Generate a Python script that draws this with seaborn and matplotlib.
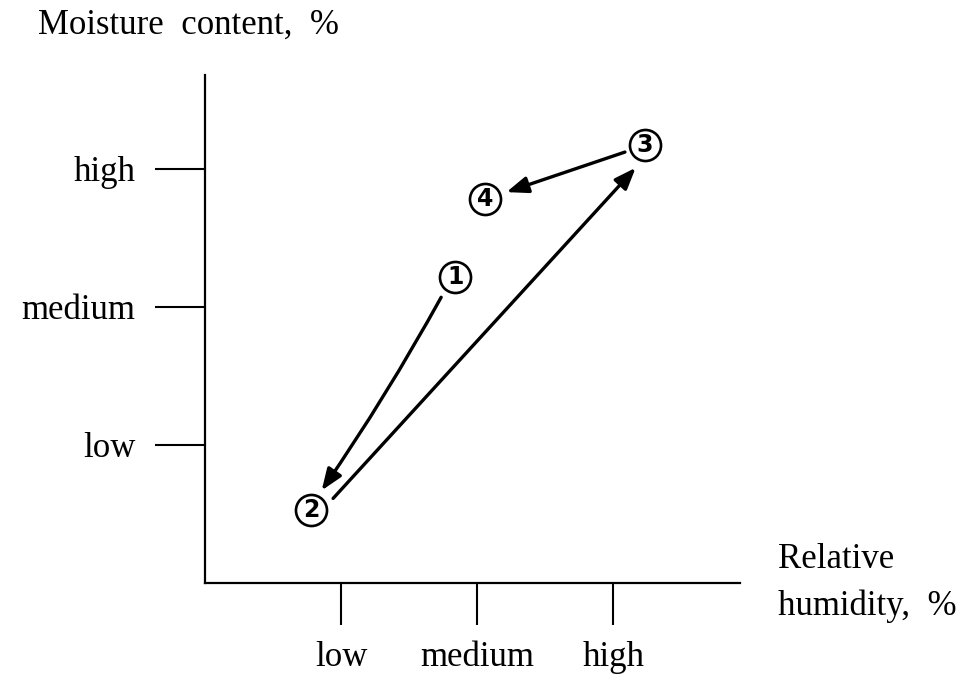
import matplotlib
matplotlib.use("Agg")
import matplotlib.pyplot as plt
from matplotlib.transforms import ScaledTranslation
import seaborn as sns
import pandas as pd

# state points on the sorption diagram (axis units: low=1, medium=2, high=3)
labels = ["1", "2", "3", "4"]
humidity = [1.84, 0.78, 3.23, 2.06]
moisture = [2.22, 0.53, 3.17, 2.78]
path = [(0, 1), (1, 2), (2, 3)]  # arrows between states

tick_pos = [1, 2, 3]
tick_labels = ["low", "medium", "high"]

df = pd.DataFrame({"state": labels, "RH": humidity, "MC": moisture})

sns.set_style("white")
plt.rcParams["font.family"] = ["Liberation Serif", "DejaVu Serif"]
plt.rcParams["text.color"] = "black"

fig = plt.figure(figsize=(9.61, 6.75), dpi=100)
ax = fig.add_axes([0.2133, 0.1363, 0.5567, 0.7526])

sns.scatterplot(data=df, x="RH", y="MC", ax=ax, s=500, marker="o",
                facecolor="white", edgecolor="black", linewidth=1.9, zorder=3)
for _, r in df.iterrows():
    ax.text(r.RH, r.MC, r.state, ha="center", va="center", fontsize=17,
            family="DejaVu Sans", weight="bold", zorder=4)

# (rad, shrink at start, shrink at end, pixel offset) per arrow
arrow_style = {(0, 1): (-0.03, 17, 17, (-3, 0)),
               (1, 2): (0.0, 17, 16, (6, 6)),
               (2, 3): (0.0, 15, 16, (0, 0))}
for a, b in path:
    rad, sa, sb, (dx, dy) = arrow_style[(a, b)]
    tr = ax.transData + ScaledTranslation(dx / 100, -dy / 100, fig.dpi_scale_trans)
    ax.annotate("", xy=(humidity[b], moisture[b]), xytext=(humidity[a], moisture[a]),
                xycoords=tr, textcoords=tr,
                arrowprops=dict(arrowstyle="-|>,head_length=1.3,head_width=0.5",
                                color="black", lw=2.4, shrinkA=sa, shrinkB=sb,
                                connectionstyle=f"arc3,rad={rad}"))

ax.set_xlim(0, 3.93)
ax.set_ylim(0, 3.68)
ax.set_xticks(tick_pos, tick_labels)
ax.set_yticks(tick_pos, tick_labels)
ax.set_xlabel("")
ax.set_ylabel("")
for s in ["top", "right"]:
    ax.spines[s].set_visible(False)
for s in ["left", "bottom"]:
    ax.spines[s].set_linewidth(1.6)
    ax.spines[s].set_color("black")
ax.tick_params(axis="y", direction="out", length=36, width=1.5, pad=14,
               labelsize=25, left=True, labelcolor="black", color="black")
ax.tick_params(axis="x", direction="out", length=30, width=1.5, pad=12,
               labelsize=25, bottom=True, labelcolor="black", color="black")

fig.text(38 / 961, 1 - 25 / 675, "Moisture  content,  %", fontsize=25,
         ha="left", va="center")
fig.text(778 / 961, 1 - 583 / 675, "Relative\nhumidity,  %", fontsize=25,
         ha="left", va="center", linespacing=1.55)

fig.savefig("out.png", dpi=100)
